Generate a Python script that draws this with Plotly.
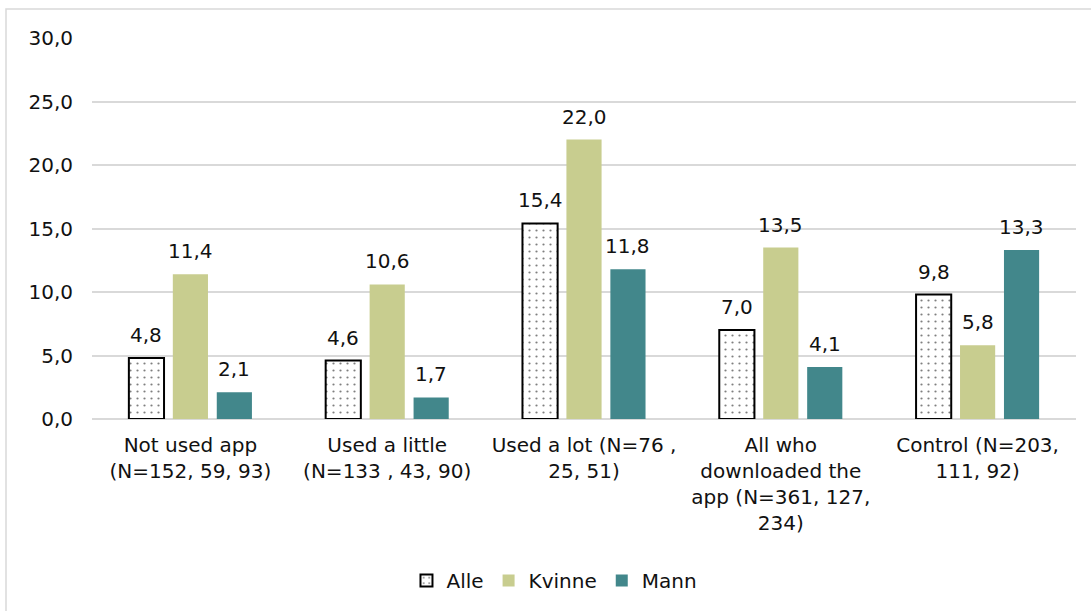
import plotly.graph_objects as go

# Share of respondents, per group and gender
categories = [
    "Not used app<br>(N=152, 59, 93)",
    "Used a little<br>(N=133 , 43, 90)",
    "Used a lot (N=76 ,<br>25, 51)",
    "All who<br>downloaded the<br>app (N=361, 127,<br>234)",
    "Control (N=203,<br>111, 92)",
]
alle = [4.8, 4.6, 15.4, 7.0, 9.8]
kvinne = [11.4, 10.6, 22.0, 13.5, 5.8]
mann = [2.1, 1.7, 11.8, 4.1, 13.3]

FONT = "DejaVu Sans"
FS = 20
TXT = "#111111"

fig = go.Figure()
fig.add_bar(
    name="Alle", x=categories, y=alle,
    marker=dict(color="white", line=dict(color="black", width=2),
                pattern=dict(shape=".", fgcolor="black", bgcolor="white",
                             size=7, solidity=0.08)),
)
fig.add_bar(name="Kvinne", x=categories, y=kvinne,
            marker=dict(color="#C8CD8F", line=dict(width=0)))
fig.add_bar(name="Mann", x=categories, y=mann,
            marker=dict(color="#42878B", line=dict(width=0)))

# geometry of the bar slots used to place value labels over each bar
L, R, T, B = 92, 15, 38, 191
W, H = 1091, 611
BARGAP, GROUPGAP = 0.33, 0.2
cat_px = (W - L - R) / len(categories)
slot_px = cat_px * (1 - BARGAP) / 3

annotations = []
for k, series in enumerate([alle, kvinne, mann]):
    for cat, v in zip(categories, series):
        annotations.append(dict(
            x=cat, y=v, xref="x", yref="y",
            text=f"{v:.1f}".replace(".", ","),
            showarrow=False, yanchor="bottom", xanchor="center",
            xshift=(k - 1) * slot_px, yshift=9,
            font=dict(family=FONT, size=FS, color=TXT),
        ))

fig.update_layout(
    width=W, height=H,
    margin=dict(l=L, r=R, t=T, b=B),
    paper_bgcolor="white", plot_bgcolor="white",
    barmode="group", bargap=BARGAP, bargroupgap=GROUPGAP,
    separators=", ",
    font=dict(family=FONT, size=FS, color=TXT),
    showlegend=True,
    legend=dict(orientation="h", x=0.47, xanchor="center",
                y=-0.42, yanchor="middle",
                font=dict(family=FONT, size=FS, color=TXT),
                itemwidth=30, tracegroupgap=0),
    annotations=annotations,
    shapes=[dict(type="rect", xref="paper", yref="paper",
                 x0=(6 - L) / (W - L - R), x1=1.2,
                 y0=-1.0, y1=1 + (T - 9) / (H - T - B),
                 line=dict(color="#D9D9D9", width=1.5), layer="below")],
)
fig.update_xaxes(showgrid=False, showline=False, ticks="",
                 ticklabelstandoff=12,
                 tickfont=dict(family=FONT, size=FS, color=TXT))
fig.update_yaxes(range=[0, 30], dtick=5, tickformat=".1f",
                 showgrid=True, gridcolor="#D9D9D9", gridwidth=1.5,
                 zeroline=True, zerolinecolor="#D9D9D9", zerolinewidth=1.5,
                 showline=False, ticks="", ticklabelstandoff=18,
                 tickfont=dict(family=FONT, size=FS, color=TXT))

fig.write_html("out.html")
